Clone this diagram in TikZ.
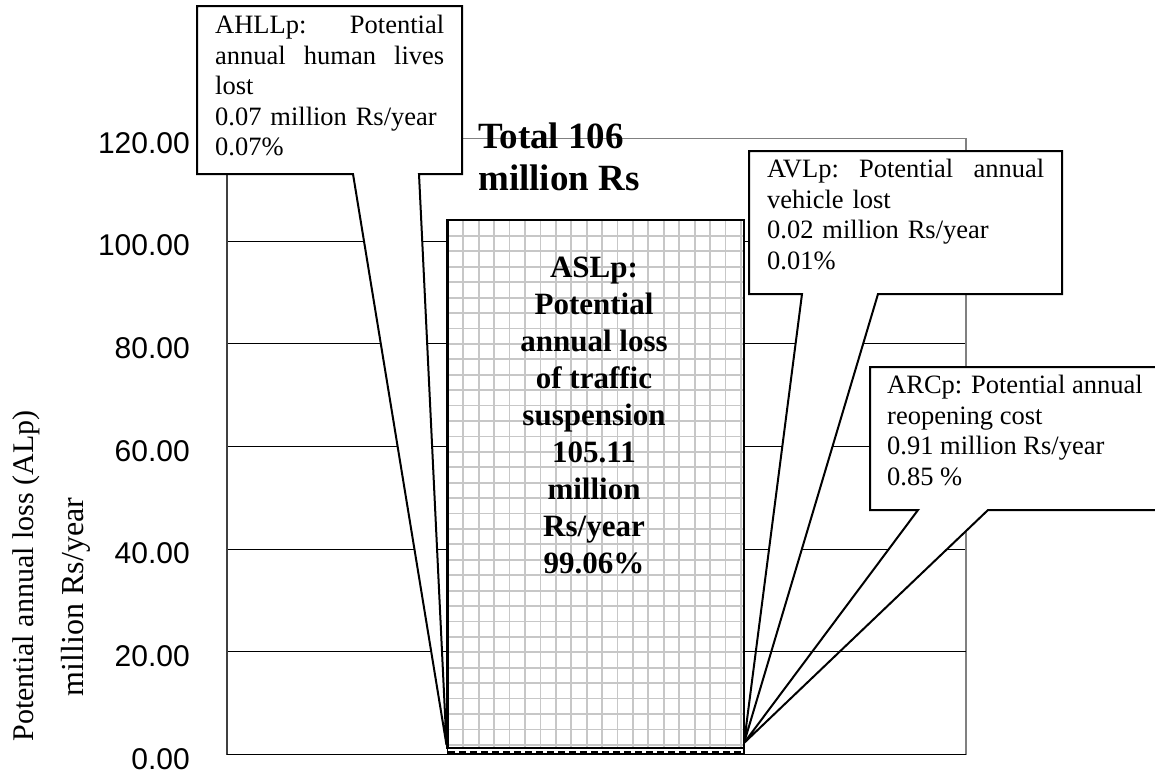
\documentclass[tikz,border=0pt]{standalone}
\usepackage{fontspec}
\setmainfont{Liberation Serif}
\newfontfamily\ticksans{Liberation Sans}
\setlength{\parindent}{0pt}
\tolerance=10000
\hbadness=10000
\hyphenpenalty=10000

\begin{document}
\begin{tikzpicture}[x=1pt,y=-1pt,
  gridl/.style={black,line width=1.2pt},
  framegray/.style={black!50,line width=1.8pt},
  hatch/.style={black!22,line width=1.8pt},
  callout/.style={draw=black,fill=white,line width=2pt,line join=miter},
  calltext/.style={font=\fontsize{26.5}{30.6}\selectfont,inner sep=0pt,anchor=north west,align=left},
  bartext/.style={font=\bfseries\fontsize{31}{37}\selectfont,align=center,inner sep=0pt,anchor=north},
  ticklab/.style={font=\ticksans\fontsize{30}{36}\selectfont,anchor=base east,inner sep=0pt},
  axtitle/.style={rotate=90,anchor=base,inner sep=0pt}]

\useasboundingbox (0,0) rectangle (1155,774);
\clip (0,0) rectangle (1155,774);
\fill[white] (0,0) rectangle (1155,774);

% value axis: 0 at y=754.5, 20 units = 102.67
\def\yv#1{754.5-5.1333*#1}

% horizontal gridlines
\foreach \v in {20,40,60,80,100}
  \draw[gridl] (226.7,{\yv{\v}}) -- (966,{\yv{\v}});

% plot frame
\draw[framegray] (226.7,138.5) -- (966,138.5) -- (966,754.5);
\draw[black!75,line width=1.8pt] (226.7,138.5) -- (226.7,754.5);

% tick labels
\foreach \v/\t in {0/0.00,20/20.00,40/40.00,60/60.00,80/80.00,100/100.00,120/120.00}
  \node[ticklab] (tick\v) at (190,{\yv{\v}+14.7}) {\t};

% axis title
\node[axtitle,font=\fontsize{30}{36}\selectfont] (ytitleA) at (33,576) {Potential annual loss (ALp)};
\node[axtitle,font=\fontsize{32}{38}\selectfont] (ytitleB) at (83,597) {million Rs/year};

% stacked bar: traffic suspension loss with grid fill
\begin{scope}
  \clip (447.5,220) rectangle (744,748);
  \fill[white] (447.5,220) rectangle (744,748);
  \foreach \k in {0,...,18}
    \draw[hatch] ({463.3+15.42*\k},215) -- ({463.3+15.42*\k},750);
  \foreach \k in {-6,...,28}
    \draw[hatch] (445,{652.3-15.42*\k}) -- (746,{652.3-15.42*\k});
\end{scope}
\draw[black,line width=2.5pt] (447.5,220) rectangle (744,748);
% lowest segment (reopening cost)
\draw[black,fill=white,line width=1.5pt] (447.5,748) rectangle (744,754);
\draw[black,line width=2pt,dash pattern=on 7pt off 4pt] (448,752) -- (744,752);

% category axis
\draw[black,line width=1.8pt] (226.7,754.5) -- (966,754.5);

% bar label
\node[bartext] (aslp) at (594,256.5)
  {ASLp:\\Potential\\annual loss\\of traffic\\suspension\\105.11\\million\\Rs/year\\99.06\%};

% total label
\node[font=\bfseries\fontsize{37}{42}\selectfont,align=left,inner sep=0pt,anchor=north west]
  (total) at (478,123) {Total 106\\million Rs};

% callout tips at the foot of the bar
\coordinate (tipL) at (446.5,745);
\coordinate (tipR) at (744,743);

% AHLLp callout
\draw[callout] (197,6) -- (462,6) -- (462,174) -- (419,174) -- (tipL)
  -- (353,174) -- (197,174) -- cycle;
\node[calltext,text width=229pt] (ahll) at (215,15)
  {AHLLp:\hfill Potential\\
   annual\hfill human\hfill lives\\
   lost\\
   0.07 million Rs/year\\
   0.07\%};

% AVLp callout
\draw[callout] (749,151) -- (1062,151) -- (1062,294) -- (878,294) -- (tipR)
  -- (802,294) -- (749,294) -- cycle;
\node[calltext,text width=277pt] (avl) at (767,159)
  {AVLp:\hfill Potential\hfill annual\\
   vehicle lost\\
   0.02 million Rs/year\\
   0.01\%};

% ARCp callout
\draw[callout] (870,367) -- (1175,367) -- (1175,510) -- (988,510) -- (tipR)
  -- (918,510) -- (870,510) -- cycle;
\node[calltext] (arc) at (887,375)
  {ARCp: Potential annual\\reopening cost\\0.91 million Rs/year\\0.85 \%};

% 20-unit gridline crosses the right-hand callout legs
\draw[gridl] (745,{\yv{20}}) -- (966,{\yv{20}});

\end{tikzpicture}
\end{document}
